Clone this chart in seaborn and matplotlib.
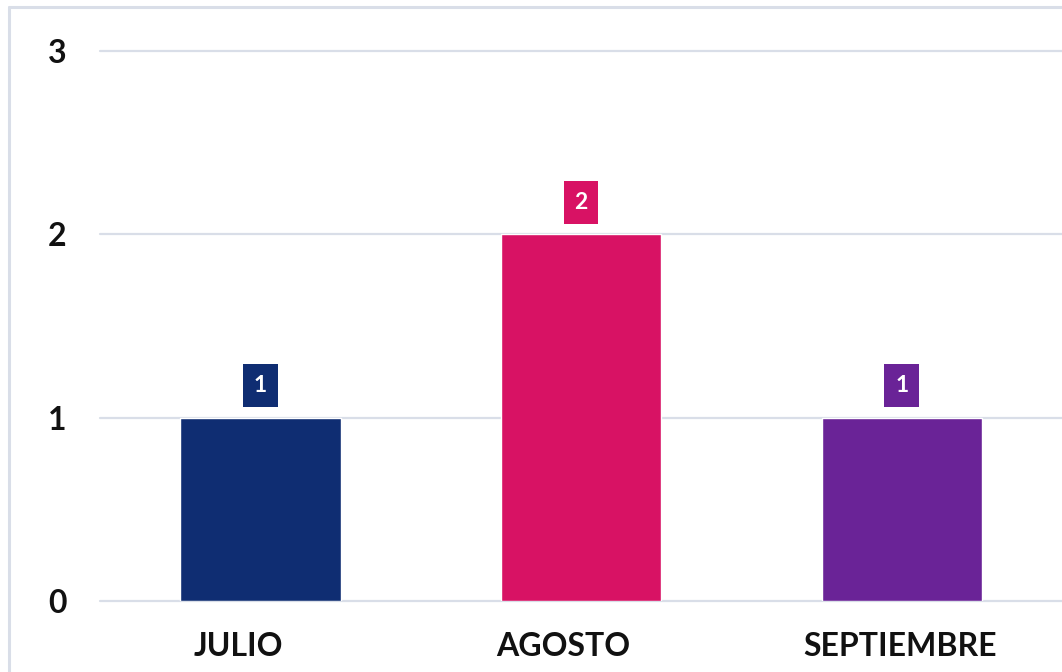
import matplotlib
matplotlib.use("Agg")
import matplotlib.pyplot as plt
import matplotlib.transforms as mtransforms
import seaborn as sns
import pandas as pd
from matplotlib.lines import Line2D

categories = ["JULIO", "AGOSTO", "SEPTIEMBRE"]
values = [1, 2, 1]
colors = ["#0F2D72", "#D81264", "#6A2397"]
yticks = [0, 1, 2, 3]

sns.set_theme(style="white")
plt.rcParams['font.family'] = ['Lato', 'DejaVu Sans']

df = pd.DataFrame({"mes": categories, "valor": values})

fig = plt.figure(figsize=(10.62, 6.72), dpi=100)
ax = fig.add_axes([100/1062, 1 - 601/672, 1 - 100/1062, (601 - 51)/672])

grid_color = "#D9DEE8"
for y in yticks:
    ax.axhline(y, color=grid_color, lw=1.6, zorder=0, clip_on=False)

sns.barplot(data=df, x="mes", y="valor", hue="mes", palette=colors,
            order=categories, hue_order=categories, width=0.5,
            legend=False, ax=ax, zorder=2, saturation=1)

ax.set_xlim(-0.5, 2.5)
ax.set_ylim(0, 3)
ax.set_yticks(yticks)
ax.set_yticklabels([str(t) for t in yticks])
ax.set_xlabel("")
ax.set_ylabel("")
for s in ax.spines.values():
    s.set_visible(False)
ax.tick_params(axis="y", length=0, pad=24, labelsize=23)
ax.tick_params(axis="x", length=0, pad=22, labelsize=23)
for lbl in ax.get_yticklabels() + ax.get_xticklabels():
    lbl.set_fontweight("bold")
    lbl.set_color("#111111")

# small horizontal shifts of category labels as in the reference
label_shift_px = [-22, -18, -2]
for lbl, dx in zip(ax.get_xticklabels(), label_shift_px):
    lbl.set_transform(lbl.get_transform() +
                      mtransforms.ScaledTranslation(dx / 100, 0, fig.dpi_scale_trans))

for i, (v, c) in enumerate(zip(values, colors)):
    ax.annotate(str(v), xy=(i, v), xytext=(0, 23), textcoords="offset points",
                ha="center", va="center", fontsize=16.5, fontweight="bold",
                color="white", zorder=5,
                bbox=dict(boxstyle="square,pad=0.47", fc=c, ec="none"))

# outer frame (partially cropped in reference)
fig.add_artist(Line2D([9/1062, 9/1062], [0, 1 - 7/672], color=grid_color, lw=2.2,
                      transform=fig.transFigure))
fig.add_artist(Line2D([9/1062, 1], [1 - 7/672, 1 - 7/672], color=grid_color, lw=2.2,
                      transform=fig.transFigure))

fig.savefig("out.png", dpi=100)
